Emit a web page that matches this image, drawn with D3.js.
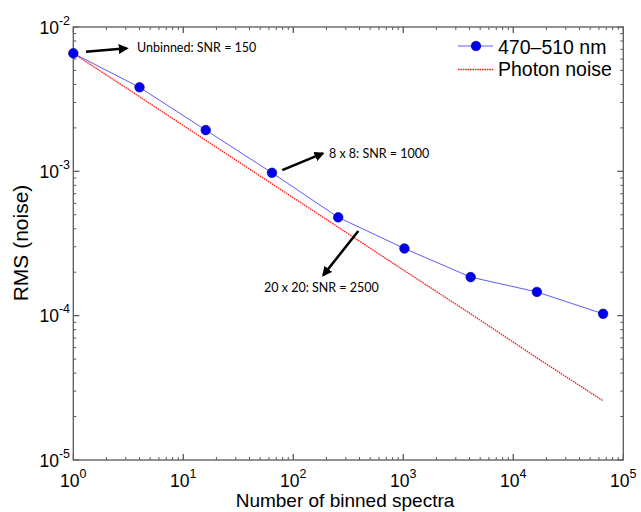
<!DOCTYPE html>
<html><head><meta charset="utf-8">
<script src="https://cdn.jsdelivr.net/npm/d3@7"></script>
<style>body{margin:0;background:#fff}svg{display:block}</style>
</head><body>
<svg id="c" width="641" height="512"></svg>
<script>
const binned = [1, 4, 16, 64, 256, 1024, 4096, 16384, 65536];
const rmsObserved = [6.57e-3, 3.82e-3, 1.93e-3, 9.77e-4, 4.80e-4, 2.92e-4, 1.85e-4, 1.46e-4, 1.03e-4];
const rmsPhoton = [6.57e-3, 3.29e-3, 1.64e-3, 8.2e-4, 4.1e-4, 2.05e-4, 1.03e-4, 5.1e-5, 2.57e-5];
const xTickExps = [0, 1, 2, 3, 4, 5];
const yTickExps = [-2, -3, -4, -5];
const seriesNames = ["470\u2013510 nm", "Photon noise"];
const notes = [
  {text: "Unbinned: SNR = 150", from: [1.305, 6.75e-3], to: [3.06, 7.12e-3], tx: 3.79, ty: 6.76e-3},
  {text: "8 x 8: SNR = 1000", from: [79.4, 1.02e-3], to: [185, 1.33e-3], tx: 211, ty: 1.23e-3},
  {text: "20 x 20: SNR = 2500", from: [390, 3.86e-4], to: [187.5, 1.91e-4], tx: 54.2, ty: 1.466e-4}
];

const svg = d3.select("#c");
const L = 73.3, R = 623.3, T = 27, B = 460;
const x = d3.scaleLog().domain([1, 1e5]).range([L, R]);
const y = d3.scaleLog().domain([1e-5, 1e-2]).range([B, T]);
const frameCol = "#5a5a5a";

const g = svg.append("g");
function xTicks(pos, dir) {
  for (let e = 0; e < 5; e++) for (let m = 1; m <= 10; m++) {
    const v = m * Math.pow(10, e);
    const major = (m === 1 || m === 10);
    const len = major ? 6 : 3;
    g.append("line").attr("x1", x(v)).attr("x2", x(v)).attr("y1", pos).attr("y2", pos + dir * len)
      .attr("stroke", frameCol).attr("stroke-width", 1);
  }
}
function yTicks(pos, dir) {
  for (let e = -5; e < -2; e++) for (let m = 1; m <= 10; m++) {
    const v = m * Math.pow(10, e);
    const major = (m === 1 || m === 10);
    const len = major ? 6 : 3;
    g.append("line").attr("y1", y(v)).attr("y2", y(v)).attr("x1", pos).attr("x2", pos + dir * len)
      .attr("stroke", frameCol).attr("stroke-width", 1);
  }
}
xTicks(B, -1); xTicks(T, 1); yTicks(L, 1); yTicks(R, -1);
svg.append("rect").attr("x", L).attr("y", T).attr("width", R - L).attr("height", B - T)
  .attr("fill", "none").attr("stroke", frameCol).attr("stroke-width", 1.3);

const font = "Liberation Sans, Arial, sans-serif";
xTickExps.forEach(e => {
  const t = svg.append("text").attr("x", x(Math.pow(10, e))).attr("y", 487)
    .attr("text-anchor", "middle").attr("font-family", font).attr("font-size", 17.5).attr("fill", "#000");
  t.append("tspan").text("10");
  t.append("tspan").attr("dy", -9).attr("font-size", 12.5).text(e);
});
yTickExps.forEach(e => {
  const t = svg.append("text").attr("x", 70).attr("y", y(Math.pow(10, e)) + 6.5)
    .attr("text-anchor", "end").attr("font-family", font).attr("font-size", 17.5).attr("fill", "#000");
  t.append("tspan").text("10");
  t.append("tspan").attr("dy", -9).attr("font-size", 12.5).text(e);
});
svg.append("text").attr("x", 345).attr("y", 507).attr("text-anchor", "middle")
  .attr("font-family", font).attr("font-size", 19).text("Number of binned spectra");
svg.append("text").attr("transform", "translate(28,243) rotate(-90)").attr("text-anchor", "middle")
  .attr("font-family", font).attr("font-size", 21).text("RMS (noise)");

const line = d3.line().x(d => x(d[0])).y(d => y(d[1]));
svg.append("path").datum(binned.map((b, i) => [b, rmsPhoton[i]])).attr("d", line)
  .attr("fill", "none").attr("stroke", "#ff1a1a").attr("stroke-width", 1.3).attr("stroke-dasharray", "1.6,0.8");
svg.append("path").datum(binned.map((b, i) => [b, rmsObserved[i]])).attr("d", line)
  .attr("fill", "none").attr("stroke", "#5c5cff").attr("stroke-width", 1);
svg.selectAll("circle.pt").data(binned.map((b, i) => [b, rmsObserved[i]])).enter().append("circle")
  .attr("cx", d => x(d[0])).attr("cy", d => y(d[1])).attr("r", 4.8)
  .attr("fill", "#0000ee").attr("stroke", "#00007a").attr("stroke-width", 0.6);

const defs = svg.append("defs");
defs.append("marker").attr("id", "ah").attr("viewBox", "0 0 10 10").attr("refX", 8).attr("refY", 5)
  .attr("markerWidth", 4).attr("markerHeight", 4).attr("orient", "auto").attr("markerUnits", "strokeWidth")
  .append("path").attr("d", "M0,0 L10,5 L0,10 Z").attr("fill", "#000");
const nfont = "Lato, 'Open Sans', sans-serif";
notes.forEach(n => {
  svg.append("line").attr("x1", x(n.from[0])).attr("y1", y(n.from[1]))
    .attr("x2", x(n.to[0])).attr("y2", y(n.to[1]))
    .attr("stroke", "#000").attr("stroke-width", 2.5).attr("marker-end", "url(#ah)");
  svg.append("text").attr("x", x(n.tx)).attr("y", y(n.ty)).attr("font-family", nfont)
    .attr("font-size", 12.5).attr("fill", "#000").text(n.text);
});

const lg = svg.append("g");
lg.append("line").attr("x1", 458).attr("x2", 493).attr("y1", 46).attr("y2", 46).attr("stroke", "#5c5cff").attr("stroke-width", 1);
lg.append("circle").attr("cx", 476).attr("cy", 46).attr("r", 4.8).attr("fill", "#0000ee").attr("stroke", "#00007a").attr("stroke-width", 0.6);
lg.append("text").attr("x", 498).attr("y", 53.5).attr("font-family", font).attr("font-size", 19.5).text(seriesNames[0]);
lg.append("line").attr("x1", 458).attr("x2", 493).attr("y1", 69.5).attr("y2", 69.5).attr("stroke", "#ff1a1a").attr("stroke-width", 1.3).attr("stroke-dasharray", "1.6,0.8");
lg.append("text").attr("x", 498).attr("y", 76).attr("font-family", font).attr("font-size", 19.5).text(seriesNames[1]);
</script>
</body></html>
